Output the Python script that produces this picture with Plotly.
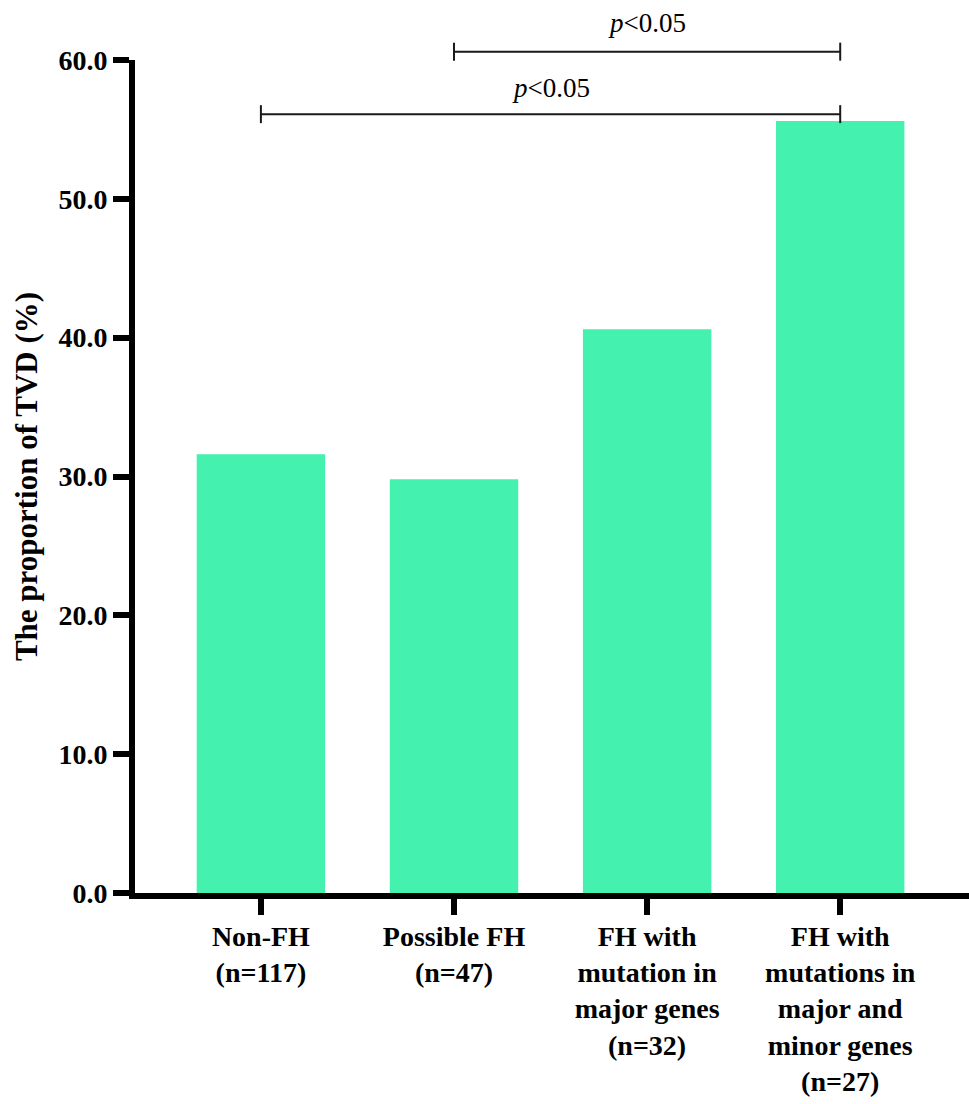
import plotly.graph_objects as go

# ---- data ----
categories = [
    "Non-FH<br>(n=117)",
    "Possible FH<br>(n=47)",
    "FH with<br>mutation in<br>major genes<br>(n=32)",
    "FH with<br>mutations in<br>major and<br>minor genes<br>(n=27)",
]
tvd_pct = [31.6, 29.8, 40.6, 55.6]

y_tickvals = [0, 10, 20, 30, 40, 50, 60]
y_ticktext = ["0.0", "10.0", "20.0", "30.0", "40.0", "50.0", "60.0"]
y_title = "The proportion of TVD (%)"

bracket_from = [1, 0]          # category index where bracket starts
bracket_to = [3, 3]            # category index where bracket ends
bracket_height = [60.6, 56.1]  # in y-axis units
bracket_label = ["<i>p</i>&lt;0.05", "<i>p</i>&lt;0.05"]

# ---- style ----
BAR_COLOR = "#44F1AF"
FONT = "Liberation Serif"
Y_MAX = 60
W, H = 969, 1104
M_L, M_R, M_T, M_B = 135, 0, 60, 211
PLOT_H = H - M_T - M_B
label_shift = [12, 9]

fig = go.Figure()
fig.add_trace(go.Bar(
    x=categories,
    y=tvd_pct,
    marker=dict(color=BAR_COLOR, line=dict(width=0)),
    width=0.665,
    showlegend=False,
))

cap = 9 / PLOT_H
shapes = []
annotations = []
for a, b, h, lab, ys in zip(bracket_from, bracket_to, bracket_height, bracket_label, label_shift):
    yp = h / Y_MAX
    line = dict(color="#1a1a1a", width=2)
    shapes.append(dict(type="line", xref="x", yref="paper", x0=a, x1=b, y0=yp, y1=yp, line=line))
    shapes.append(dict(type="line", xref="x", yref="paper", x0=a, x1=a, y0=yp - cap, y1=yp + cap, line=line))
    shapes.append(dict(type="line", xref="x", yref="paper", x0=b, x1=b, y0=yp - cap, y1=yp + cap, line=line))
    annotations.append(dict(
        x=(a + b) / 2, xref="x", y=yp, yref="paper",
        text=lab, showarrow=False, xanchor="center", yanchor="bottom", yshift=ys,
        font=dict(family=FONT, size=27, color="#000000"),
    ))

fig.update_layout(
    width=W, height=H,
    margin=dict(l=M_L, r=M_R, t=M_T, b=M_B, pad=0),
    paper_bgcolor="white", plot_bgcolor="white",
    shapes=shapes, annotations=annotations,
    bargap=0.335,
)
fig.update_xaxes(
    type="category",
    range=[-0.652, 3.667],
    showline=True, linewidth=6, linecolor="black",
    ticks="outside", ticklen=16, tickwidth=6, tickcolor="black",
    tickfont=dict(family=FONT, size=28, color="black", weight="bold"),
    ticklabelstandoff=-3,
    showgrid=False, zeroline=False,
)
fig.update_yaxes(
    range=[0, Y_MAX],
    tickvals=y_tickvals, ticktext=y_ticktext,
    showline=True, linewidth=6, linecolor="black",
    ticks="outside", ticklen=16, tickwidth=6, tickcolor="black",
    tickfont=dict(family=FONT, size=28, color="black", weight="bold"),
    showgrid=False, zeroline=False,
    title=dict(text=y_title, font=dict(family=FONT, size=31, color="black", weight="bold"), standoff=14),
)

# remove the browser's default page margin so the figure fills the window
fig.write_html(
    "out.html",
    config={"displayModeBar": False},
    post_script="document.body.style.margin='0';",
)
